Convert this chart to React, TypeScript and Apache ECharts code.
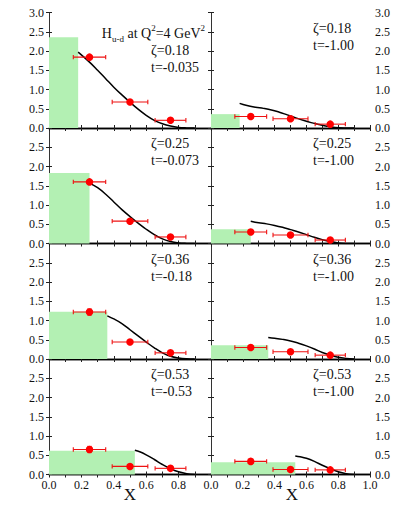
import React, { useEffect, useRef } from "react";
import * as echarts from "echarts";

// Bin centres and horizontal extents shared by all panels
const X_POINTS = [0.25, 0.5, 0.75];
const X_LOW = [0.15, 0.39, 0.655];
const X_HIGH = [0.35, 0.61, 0.845];

// Panel parameters (rows top to bottom; left column small |t|, right column t = -1)
const ZETA = [0.18, 0.25, 0.36, 0.53];
const T_LEFT = ["-0.035", "-0.073", "-0.18", "-0.53"];
const T_RIGHT = ["-1.00", "-1.00", "-1.00", "-1.00"];

// Height of the green box (x < zeta region)
const BOX_LEFT = [2.36, 1.83, 1.23, 0.62];
const BOX_RIGHT = [0.36, 0.37, 0.36, 0.32];

// Lattice points
const PTS_1L = [1.84, 0.675, 0.2];
const PTS_1R = [0.3, 0.24, 0.1];
const PTS_2L = [1.6, 0.58, 0.17];
const PTS_2R = [0.3, 0.22, 0.09];
const PTS_3L = [1.22, 0.44, 0.16];
const PTS_3R = [0.3, 0.19, 0.1];
const PTS_4L = [0.65, 0.21, 0.16];
const PTS_4R = [0.34, 0.13, 0.12];

// Vertical errors on the points
const ERR_1L = [0.03, 0.02, 0.02];
const ERR_1R = [0.04, 0.02, 0.02];
const ERR_2L = [0.03, 0.02, 0.02];
const ERR_2R = [0.05, 0.02, 0.02];
const ERR_3L = [0.08, 0.02, 0.02];
const ERR_3R = [0.05, 0.02, 0.02];
const ERR_4L = [0.08, 0.04, 0.03];
const ERR_4R = [0.06, 0.03, 0.03];

// Model curves, [x, H] pairs
const CURVE_1L = [[0.18, 1.97], [0.25, 1.71], [0.3, 1.5], [0.35, 1.28], [0.4, 1.06], [0.45, 0.86], [0.5, 0.67], [0.55, 0.49], [0.6, 0.33], [0.65, 0.2], [0.7, 0.11], [0.75, 0.05], [0.8, 0.015], [0.85, 0.003], [0.9, 0]];
const CURVE_1R = [[0.18, 0.64], [0.22, 0.59], [0.28, 0.54], [0.33, 0.51], [0.38, 0.47], [0.43, 0.41], [0.48, 0.34], [0.53, 0.27], [0.58, 0.2], [0.63, 0.14], [0.68, 0.09], [0.73, 0.045], [0.78, 0.015], [0.85, 0.002], [0.9, 0]];
const CURVE_2L = [[0.25, 1.57], [0.3, 1.45], [0.35, 1.28], [0.4, 1.08], [0.45, 0.88], [0.5, 0.7], [0.55, 0.53], [0.6, 0.37], [0.65, 0.23], [0.7, 0.12], [0.75, 0.05], [0.8, 0.015], [0.85, 0.003], [0.9, 0]];
const CURVE_2R = [[0.25, 0.58], [0.3, 0.54], [0.35, 0.51], [0.4, 0.47], [0.45, 0.42], [0.5, 0.36], [0.55, 0.3], [0.6, 0.23], [0.65, 0.16], [0.7, 0.1], [0.75, 0.05], [0.8, 0.015], [0.85, 0.002], [0.9, 0]];
const CURVE_3L = [[0.36, 1.12], [0.4, 1.04], [0.45, 0.92], [0.5, 0.76], [0.55, 0.6], [0.6, 0.44], [0.65, 0.29], [0.7, 0.16], [0.75, 0.07], [0.8, 0.025], [0.85, 0.005], [0.9, 0]];
const CURVE_3R = [[0.36, 0.56], [0.4, 0.54], [0.45, 0.51], [0.5, 0.47], [0.55, 0.41], [0.6, 0.34], [0.65, 0.26], [0.7, 0.17], [0.75, 0.1], [0.8, 0.045], [0.85, 0.015], [0.9, 0]];
const CURVE_4L = [[0.53, 0.63], [0.56, 0.59], [0.6, 0.51], [0.65, 0.39], [0.7, 0.26], [0.75, 0.15], [0.8, 0.07], [0.85, 0.02], [0.9, 0]];
const CURVE_4R = [[0.53, 0.48], [0.56, 0.46], [0.6, 0.42], [0.65, 0.34], [0.7, 0.24], [0.75, 0.15], [0.8, 0.07], [0.85, 0.02], [0.9, 0]];

const Y_TICKS = [0, 0.5, 1, 1.5, 2, 2.5, 3];

const SERIF = "Liberation Serif";

type Panel = {
  row: number;
  col: number;
  zeta: number;
  t: string;
  box: number;
  pts: number[];
  err: number[];
  curve: number[][];
};

const PANELS: Panel[] = [
  { row: 0, col: 0, zeta: ZETA[0], t: T_LEFT[0], box: BOX_LEFT[0], pts: PTS_1L, err: ERR_1L, curve: CURVE_1L },
  { row: 0, col: 1, zeta: ZETA[0], t: T_RIGHT[0], box: BOX_RIGHT[0], pts: PTS_1R, err: ERR_1R, curve: CURVE_1R },
  { row: 1, col: 0, zeta: ZETA[1], t: T_LEFT[1], box: BOX_LEFT[1], pts: PTS_2L, err: ERR_2L, curve: CURVE_2L },
  { row: 1, col: 1, zeta: ZETA[1], t: T_RIGHT[1], box: BOX_RIGHT[1], pts: PTS_2R, err: ERR_2R, curve: CURVE_2R },
  { row: 2, col: 0, zeta: ZETA[2], t: T_LEFT[2], box: BOX_LEFT[2], pts: PTS_3L, err: ERR_3L, curve: CURVE_3L },
  { row: 2, col: 1, zeta: ZETA[2], t: T_RIGHT[2], box: BOX_RIGHT[2], pts: PTS_3R, err: ERR_3R, curve: CURVE_3R },
  { row: 3, col: 0, zeta: ZETA[3], t: T_LEFT[3], box: BOX_LEFT[3], pts: PTS_4L, err: ERR_4L, curve: CURVE_4L },
  { row: 3, col: 1, zeta: ZETA[3], t: T_RIGHT[3], box: BOX_RIGHT[3], pts: PTS_4R, err: ERR_4R, curve: CURVE_4R },
];

// Layout of the 4x2 panel grid
const GRID_LEFT = [49, 211];
const GRID_W = 162;
const GRID_TOP0 = 12.5;
const GRID_H = 115.5;

function buildOption() {
  const grids: any[] = [];
  const xAxes: any[] = [];
  const yAxes: any[] = [];
  const series: any[] = [];
  const graphics: any[] = [];

  PANELS.forEach((p, i) => {
    const left = GRID_LEFT[p.col];
    const top = GRID_TOP0 + p.row * GRID_H;
    grids.push({ left, top, width: GRID_W, height: GRID_H, containLabel: false });

    const isBottom = p.row === 3;
    const isLeft = p.col === 0;
    const xBase = {
      type: "value",
      gridIndex: i,
      min: 0,
      max: 1,
      interval: 0.1,
      splitLine: { show: false },
      axisLine: { show: true, lineStyle: { color: "#000", width: 1.3 } },
      axisTick: { show: true, inside: true, length: 3, lineStyle: { color: "#222" } },
    };
    xAxes.push({
      ...xBase,
      position: "bottom",
      axisLabel: {
        show: isBottom,
        fontFamily: SERIF,
        fontSize: 12,
        color: "#111",
        margin: 4,
        formatter: (v: number) => {
          const k = Math.round(v * 10);
          if (k % 2 !== 0) return "";
          if (isLeft && k === 10) return "";
          return v.toFixed(1);
        },
      },
    });
    xAxes.push({ ...xBase, position: "top", axisLabel: { show: false } });

    const yBase = {
      type: "value",
      gridIndex: i,
      min: 0,
      max: 3,
      interval: 0.5,
      splitLine: { show: false },
      axisLine: { show: true, lineStyle: { color: "#333", width: 1 } },
      axisTick: { show: true, inside: true, length: 3, lineStyle: { color: "#222" } },
    };
    const yLabel = (show: boolean) => ({
      show,
      fontFamily: SERIF,
      fontSize: 12,
      color: "#111",
      margin: 5,
      formatter: (v: number) => {
        if (p.row > 0 && v === Y_TICKS[Y_TICKS.length - 1]) return "";
        return v.toFixed(1);
      },
    });
    yAxes.push({ ...yBase, position: "left", axisLabel: yLabel(isLeft) });
    yAxes.push({ ...yBase, position: "right", axisLabel: yLabel(!isLeft) });

    const xi = 2 * i;
    const yi = 2 * i;

    // green box over 0 < x < zeta
    series.push({
      type: "custom",
      xAxisIndex: xi,
      yAxisIndex: yi,
      z: 1,
      silent: true,
      data: [[0, p.zeta, p.box]],
      encode: { x: [0, 1], y: 2 },
      renderItem: (_params: any, api: any) => {
        const a = api.coord([api.value(0), api.value(2)]);
        const b = api.coord([api.value(1), 0]);
        return {
          type: "rect",
          shape: { x: a[0], y: a[1], width: b[0] - a[0], height: b[1] - a[1] },
          style: { fill: "#b3f0b3" },
        };
      },
    });

    // model curve
    series.push({
      type: "line",
      xAxisIndex: xi,
      yAxisIndex: yi,
      z: 3,
      data: p.curve,
      smooth: 0.4,
      showSymbol: false,
      symbol: "none",
      lineStyle: { color: "#000", width: 1.5 },
    });

    // error bars
    const errData = X_POINTS.map((x, k) => [x, p.pts[k], X_LOW[k], X_HIGH[k], p.pts[k] - p.err[k], p.pts[k] + p.err[k]]);
    series.push({
      type: "custom",
      xAxisIndex: xi,
      yAxisIndex: yi,
      z: 4,
      silent: true,
      data: errData,
      encode: { x: 0, y: 1 },
      renderItem: (_params: any, api: any) => {
        const y = api.value(1);
        const lo = api.coord([api.value(2), y]);
        const hi = api.coord([api.value(3), y]);
        const yl = api.coord([api.value(0), api.value(4)]);
        const yh = api.coord([api.value(0), api.value(5)]);
        const st = { stroke: "#ee1111", lineWidth: 1.1 };
        const cap = 2.2;
        return {
          type: "group",
          children: [
            { type: "line", shape: { x1: lo[0], y1: lo[1], x2: hi[0], y2: hi[1] }, style: st },
            { type: "line", shape: { x1: lo[0], y1: lo[1] - cap, x2: lo[0], y2: lo[1] + cap }, style: st },
            { type: "line", shape: { x1: hi[0], y1: hi[1] - cap, x2: hi[0], y2: hi[1] + cap }, style: st },
            { type: "line", shape: { x1: yl[0], y1: yl[1], x2: yh[0], y2: yh[1] }, style: st },
            { type: "line", shape: { x1: yl[0] - cap, y1: yl[1], x2: yl[0] + cap, y2: yl[1] }, style: st },
            { type: "line", shape: { x1: yh[0] - cap, y1: yh[1], x2: yh[0] + cap, y2: yh[1] }, style: st },
          ],
        };
      },
    });

    // data points
    series.push({
      type: "scatter",
      xAxisIndex: xi,
      yAxisIndex: yi,
      z: 5,
      data: X_POINTS.map((x, k) => [x, p.pts[k]]),
      symbol: "circle",
      symbolSize: 7.5,
      itemStyle: { color: "#ff0000", opacity: 1 },
    });

    // panel labels
    const tx = isLeft ? 151 : 313;
    const ty = p.row === 0 && isLeft ? top + 37.5 : top + 15.5;
    graphics.push({
      type: "text",
      x: tx,
      y: ty,
      style: { text: "\u03B6=" + p.zeta.toFixed(2), fontFamily: SERIF, fontSize: 14, fill: "#111", verticalAlign: "middle" },
    });
    graphics.push({
      type: "text",
      x: tx,
      y: ty + 17,
      style: { text: "t=" + p.t, fontFamily: SERIF, fontSize: 14, fill: "#111", verticalAlign: "middle" },
    });
  });

  // title in the first panel
  graphics.push({
    type: "text",
    x: 205,
    y: 33,
    style: {
      text: "{m|H}{sub|u-d}{m| at Q}{sup|2}{m|=4 GeV}{sup|2}",
      align: "right",
      verticalAlign: "middle",
      fill: "#111",
      rich: {
        m: { fontFamily: SERIF, fontSize: 14, lineHeight: 20, verticalAlign: "middle" },
        sub: { fontFamily: SERIF, fontSize: 9, lineHeight: 9, verticalAlign: "bottom" },
        sup: { fontFamily: SERIF, fontSize: 9, lineHeight: 9, verticalAlign: "top" },
      },
    },
  });

  // x-axis titles
  GRID_LEFT.forEach((l) => {
    graphics.push({
      type: "text",
      x: l + GRID_W / 2,
      y: 494,
      style: { text: "X", fontFamily: SERIF, fontSize: 17, fill: "#111", align: "center", verticalAlign: "middle" },
    });
  });

  return {
    animation: false,
    backgroundColor: "#fff",
    grid: grids,
    xAxis: xAxes,
    yAxis: yAxes,
    series,
    graphic: graphics,
  };
}

export default function App() {
  const ref = useRef<HTMLDivElement>(null);
  useEffect(() => {
    if (!ref.current) return;
    const chart = echarts.init(ref.current, undefined, { renderer: "svg" });
    chart.setOption(buildOption());
    return () => chart.dispose();
  }, []);
  return <div ref={ref} style={{ position: "absolute", left: 0, top: 0, width: 393, height: 505 }} />;
}
